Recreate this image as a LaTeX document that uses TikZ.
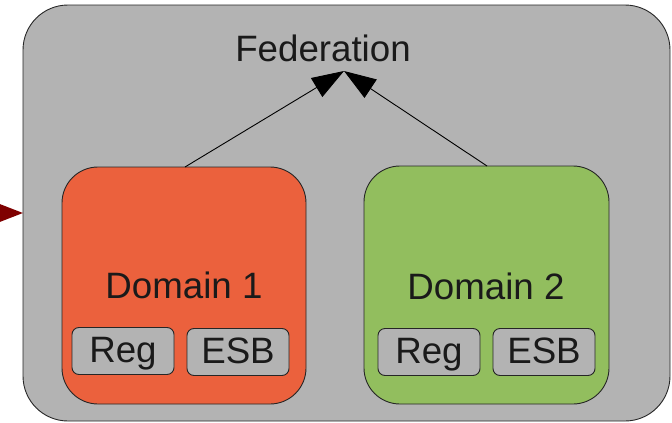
\documentclass[tikz,border=0pt]{standalone}
\usepackage{fontspec}
\setmainfont{Liberation Sans}
\usetikzlibrary{arrows.meta}
\definecolor{fedgray}{HTML}{B3B3B3}
\definecolor{domorange}{HTML}{EB613D}
\definecolor{domgreen}{HTML}{92BE5E}
\definecolor{inred}{HTML}{7F0000}
\definecolor{txt}{HTML}{1A1A1A}
\tikzset{
  panel/.style={draw=black!85, line width=0.9pt, rounded corners=#1},
  lbl/.style={text=txt, font=\fontsize{36.7}{40}\selectfont, inner sep=0pt},
  part/.style={panel=7pt, fill=fedgray, minimum width=102pt, minimum height=47pt,
               inner sep=0pt, text height=26.3pt, text depth=4.3pt,
               text=txt, font=\fontsize{36.7}{40}\selectfont},
  link/.style={line width=0.9pt, -{Triangle[length=32pt,width=22pt]}}
}
\begin{document}
\begin{tikzpicture}[x=1pt,y=-1pt]
\useasboundingbox (0,0) rectangle (672,423);
% outer federation area
\draw[panel=45pt, fill=fedgray] (23,5) rectangle (670,421);
\node[lbl] (fed) at (323,48) {Federation};
\coordinate (tip) at (344,71);
% incoming arrow on the left
\coordinate (inlet) at (-10,213);
\coordinate (inend) at (23,213);
\draw[inred, line width=2pt, -{Triangle[length=24pt,width=18pt]}] (inlet) -- (inend);
% domain 1
\draw[panel=36pt, fill=domorange] (62,167) rectangle (306,404);
\coordinate (d1top) at (185,167);
\node[lbl] (d1) at (184,285) {Domain 1};
\node[part] (reg1) at (123,351) {Reg};
\node[part] (esb1) at (238,352) {ESB};
% domain 2
\draw[panel=36pt, fill=domgreen] (364,166) rectangle (609,404);
\coordinate (d2top) at (487,166);
\node[lbl] (d2) at (486,286) {Domain 2};
\node[part] (reg2) at (429,352) {Reg};
\node[part] (esb2) at (544,352) {ESB};
% links to the federation
\draw[link] (d1top) -- (tip);
\draw[link] (d2top) -- (tip);
\end{tikzpicture}
\end{document}
